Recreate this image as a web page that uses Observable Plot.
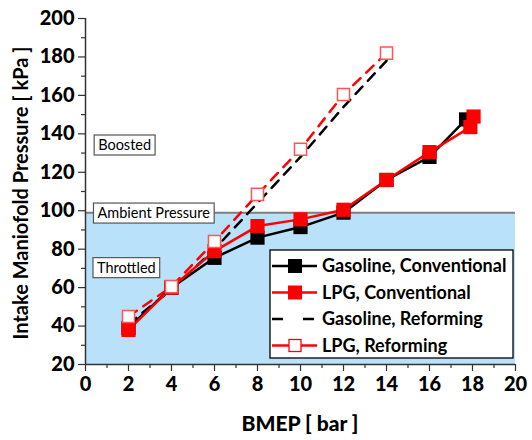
<!DOCTYPE html>
<html><head><meta charset="utf-8">
<script src="https://cdn.jsdelivr.net/npm/d3@7"></script>
<script src="https://cdn.jsdelivr.net/npm/@observablehq/plot@0.6"></script>
<style>
body{margin:0;background:#fff;}
#chart svg{font-family:Lato,"Open Sans",sans-serif;}
</style></head>
<body><div id="chart"></div>
<script>
// ---- data ----
const bmepGasConv = [2, 4, 6, 8, 10, 12, 14, 16, 17.7];
const gasolineConv = [39, 60, 75.5, 86, 91.5, 99, 116, 128, 147.5];
const bmepLpgConv = [2, 4, 6, 8, 10, 12, 14, 16, 17.9, 18.05];
const lpgConv = [38, 60, 79, 92, 95.5, 100.5, 116, 130.5, 143.5, 149];
const bmepRef = [2, 4, 6, 8, 10, 12, 14];
const gasolineRef = [41, 59, 80, 104, 128, 154, 178];
const lpgRef = [45, 60.5, 84, 108.5, 132, 160.5, 182];
const ambientPressure = 99;
const xTicks = [0, 2, 4, 6, 8, 10, 12, 14, 16, 18, 20];
const yTicks = [20, 40, 60, 80, 100, 120, 140, 160, 180, 200];
const regionLabels = ["Boosted", "Ambient Pressure", "Throttled"];
const seriesNames = ["Gasoline, Conventional", "LPG, Conventional", "Gasoline, Reforming", "LPG, Reforming"];

const toRows = (xs, ys) => xs.map((x, i) => ({x, y: ys[i]}));
const gc = toRows(bmepGasConv, gasolineConv);
const lc = toRows(bmepLpgConv, lpgConv);
const gr = toRows(bmepRef, gasolineRef);
const lr = toRows(bmepRef, lpgRef);

const annot = [
  {text: regionLabels[0], x: 1.82, y: 134},
  {text: regionLabels[1], x: 3.17, y: 98.6},
  {text: regionLabels[2], x: 1.9, y: 70.2}
];

const chart = Plot.plot({
  width: 532, height: 440,
  marginLeft: 85, marginRight: 17, marginTop: 18, marginBottom: 76,
  x: {domain: [0, 20]},
  y: {domain: [20, 200]},
  style: {fontFamily: "Lato, 'Open Sans', sans-serif", background: "#fff"},
  marks: [
    Plot.rect([{}], {x1: 0, x2: 20, y1: 20, y2: ambientPressure, fill: "#b9e1fa"}),
    Plot.ruleY([ambientPressure], {x1: 0, x2: 20, stroke: "#7f7f7f", strokeWidth: 2}),
    // axes
    Plot.axisX({ticks: xTicks, tickSize: 7, tickPadding: 5, label: null, fontSize: 20, fontWeight: "900", fill: "#000", stroke: "#333", strokeWidth: 1.2}),
    Plot.axisX({ticks: d3.range(1, 20, 2), tickSize: 4, text: null, label: null, stroke: "#333", strokeWidth: 1.2}),
    Plot.axisY({ticks: yTicks, tickSize: 7, tickPadding: 4, label: null, fontSize: 20, fontWeight: "900", fill: "#000", stroke: "#333", strokeWidth: 1.2}),
    Plot.axisY({ticks: d3.range(30, 200, 20), tickSize: 4, text: null, label: null, stroke: "#333", strokeWidth: 1.2}),
    Plot.ruleX([0], {stroke: "#333", strokeWidth: 1.5}),
    Plot.ruleY([20], {stroke: "#333", strokeWidth: 1.5}),
    // series
    Plot.line(gr, {x: "x", y: "y", stroke: "#000", strokeWidth: 2.5, strokeDasharray: "10,8"}),
    Plot.line(lr, {x: "x", y: "y", stroke: "#ff0000", strokeWidth: 2.5, strokeDasharray: "10,8"}),
    Plot.line(gc, {x: "x", y: "y", stroke: "#000", strokeWidth: 2.5}),
    Plot.line(lc, {x: "x", y: "y", stroke: "#ff0000", strokeWidth: 2.5}),
    Plot.dot(gc, {x: "x", y: "y", symbol: "square", r: 8, fill: "#000", stroke: null}),
    Plot.dot(lc, {x: "x", y: "y", symbol: "square", r: 8, fill: "#ff0000", stroke: null}),
    Plot.dot(lr, {x: "x", y: "y", symbol: "square", r: 6.8, fill: "#fff", stroke: "#ff5555", strokeWidth: 1.5}),
    // region labels
    Plot.text(annot, {x: "x", y: "y", text: "text", fontSize: 14.5, fill: "#000", className: "boxlabel"})
  ]
});
document.getElementById("chart").appendChild(chart);

const svg = d3.select(chart);
// boxes behind region labels
svg.selectAll("g.boxlabel text").each(function() {
  const b = this.getBBox();
  const r = d3.select(this.parentNode).insert("rect", () => this)
    .attr("x", b.x - 4).attr("y", b.y - 1).attr("width", b.width + 8).attr("height", b.height + 3)
    .attr("fill", "#fff").attr("stroke", "#555").attr("stroke-width", 1.2);
  const t = this.getAttribute("transform");
  if (t) r.attr("transform", t);
});

// axis titles
svg.append("text").attr("x", 300).attr("y", 431).attr("text-anchor", "middle")
  .attr("font-size", 21).attr("font-weight", "900").text("BMEP [ bar ]");
svg.append("text").attr("transform", "translate(28,193) rotate(-90)").attr("text-anchor", "middle")
  .attr("font-size", 20).attr("font-weight", "bold").text("Intake Maniofold Pressure [ kPa ]");

// legend
const lg = svg.append("g").attr("text-anchor", "start");
lg.append("rect").attr("x", 270).attr("y", 250).attr("width", 243).attr("height", 108)
  .attr("fill", "#fff").attr("stroke", "#000").attr("stroke-width", 1.3);
const styles = [
  {color: "#000", dash: null, marker: "filled"},
  {color: "#ff0000", dash: null, marker: "filled"},
  {color: "#000", dash: "11,20", marker: null},
  {color: "#ff0000", dash: null, marker: "open"}
];
seriesNames.forEach((name, i) => {
  const y = 266 + i * 26.5;
  const s = styles[i];
  const ln = lg.append("line").attr("x1", 272).attr("x2", 317).attr("y1", y).attr("y2", y)
    .attr("stroke", s.color).attr("stroke-width", 2.5);
  if (s.dash) ln.attr("stroke-dasharray", s.dash);
  if (s.marker === "filled") {
    lg.append("rect").attr("x", 288).attr("y", y - 7).attr("width", 14).attr("height", 14).attr("fill", s.color);
  } else if (s.marker === "open") {
    lg.append("rect").attr("x", 289).attr("y", y - 6).attr("width", 12).attr("height", 12)
      .attr("fill", "#fff").attr("stroke", s.color).attr("stroke-width", 1.3);
  }
  lg.append("text").attr("x", 322).attr("y", y).attr("dy", "0.35em").attr("text-anchor", "start")
    .attr("font-size", 18).attr("font-weight", "bold").attr("fill", "#000").text(name);
});
</script>
</body></html>
